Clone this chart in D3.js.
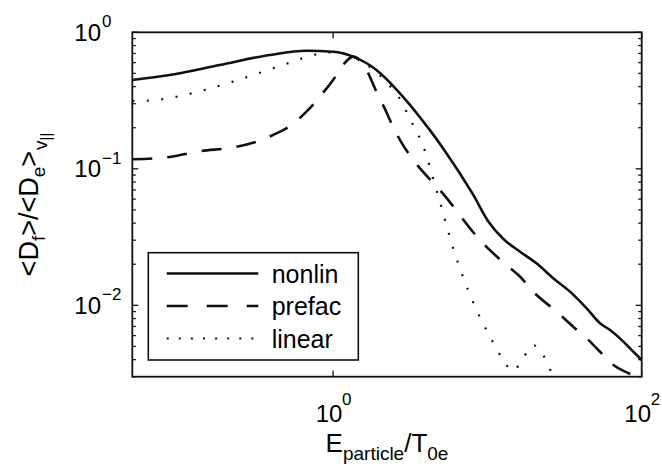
<!DOCTYPE html>
<html>
<head>
<meta charset="utf-8">
<script src="https://cdn.jsdelivr.net/npm/d3@7"></script>
<style>
  html, body { margin: 0; padding: 0; background: #fff; }
  svg text { font-family: "Liberation Sans", Arial, Helvetica, sans-serif; fill: #000; }
</style>
</head>
<body>
<svg id="chart" width="662" height="468"></svg>
<script>
// Energy grid (E_particle / T_0e) and diffusion ratio for each model
const xNonlin = [0.05, 0.0873, 0.184, 0.388, 0.672, 1, 1.349, 1.91, 2.84, 4.24, 5.17, 8.05, 10.2, 12.7, 16.3, 20.8, 26.7, 34.3, 44.0, 53.7, 62.3, 72.3, 84.0, 100];
const yNonlin = [0.447, 0.487, 0.576, 0.682, 0.733, 0.721, 0.663, 0.530, 0.337, 0.192, 0.141, 0.0652, 0.0408, 0.0306, 0.0247, 0.0203, 0.0158, 0.0126, 0.0095, 0.00738, 0.00659, 0.00573, 0.00484, 0.00397];

const xPrefac = [0.05, 0.0873, 0.130, 0.236, 0.319, 0.408, 0.537, 0.672, 0.820, 1, 1.161, 1.349, 1.647, 1.91, 2.16, 2.45, 2.84, 3.14, 5.30, 9.17, 13.3, 16.3, 19.8, 28.1, 36.0, 44.0, 53.7, 65.5, 84, 95];
const yPrefac = [0.1174, 0.122, 0.1334, 0.145, 0.158, 0.177, 0.209, 0.262, 0.337, 0.447, 0.576, 0.663, 0.530, 0.367, 0.277, 0.203, 0.149, 0.126, 0.0633, 0.0292, 0.0197, 0.0162, 0.0126, 0.00898, 0.00697, 0.00573, 0.00457, 0.00365, 0.00314, 0.0029];

const xLinear = [0.05, 0.0617, 0.0965, 0.147, 0.224, 0.343, 0.524, 0.800, 0.977, 1.383, 1.73, 2.11, 2.45, 2.78, 3.06, 3.39, 3.74, 4.78, 6.15, 7.14, 8.51, 10.4, 12.7, 14.6, 17.1, 19.7, 22.6, 25.4, 27.8];
const yLinear = [0.314, 0.315, 0.337, 0.378, 0.435, 0.509, 0.599, 0.694, 0.713, 0.659, 0.557, 0.460, 0.378, 0.310, 0.248, 0.198, 0.158, 0.0643, 0.0240, 0.0149, 0.00924, 0.00589, 0.00397, 0.0033, 0.00413, 0.00512, 0.00448, 0.00341, 0.00284];

const seriesNames = ["nonlin", "prefac", "linear"];
const xTickValues = [1, 100];
const xTickExponents = ["0", "2"];
const yTickValues = [1, 0.1, 0.01];
const yTickExponents = ["0", "\u22121", "\u22122"];

const svg = d3.select("#chart");
const L = 132.3, R = 641.7, T = 32.3, B = 376.7;

const x = d3.scaleLog().domain([0.05, 100]).range([L, R]);
const y = d3.scaleLog().domain([0.003, 1]).range([B, T]);

svg.append("rect").attr("width", 662).attr("height", 468).attr("fill", "#fff");

svg.append("defs").append("clipPath").attr("id", "plotClip")
  .append("rect").attr("x", L).attr("y", T).attr("width", R - L).attr("height", B - T);

// Curves
const line = d3.line().x(d => x(d[0])).y(d => y(d[1])).curve(d3.curveMonotoneX);
const styles = {
  nonlin: { dash: null, legendDash: null, width: 2.6 },
  prefac: { dash: "20,15", legendDash: "21,19", width: 2.6 },
  linear: { dash: "2,12.5", legendDash: "2,10.1", width: 2.2 }
};
const data = {
  nonlin: d3.zip(xNonlin, yNonlin),
  prefac: d3.zip(xPrefac, yPrefac),
  linear: d3.zip(xLinear, yLinear)
};
const plot = svg.append("g").attr("clip-path", "url(#plotClip)");
["linear", "prefac", "nonlin"].forEach(name => {
  plot.append("path")
    .datum(data[name])
    .attr("d", line)
    .attr("fill", "none")
    .attr("stroke", "#111")
    .attr("stroke-width", styles[name].width)
    .attr("stroke-dasharray", styles[name].dash);
});

// Axes: ticks drawn inward on all four sides
const axes = svg.append("g");
const majorLen = 6, minorLen = 3.5;
const yMinor = [];
[-3, -2, -1].forEach(e => { for (let k = 2; k <= 9; k++) { const v = k * Math.pow(10, e); if (v >= 0.003 && v < 1) yMinor.push(v); } });

yMinor.forEach(v => {
  axes.append("line").attr("x1", L).attr("x2", L + minorLen).attr("y1", y(v)).attr("y2", y(v));
  axes.append("line").attr("x1", R).attr("x2", R - minorLen).attr("y1", y(v)).attr("y2", y(v));
});
yTickValues.forEach(v => {
  axes.append("line").attr("x1", L).attr("x2", L + majorLen).attr("y1", y(v)).attr("y2", y(v));
  axes.append("line").attr("x1", R).attr("x2", R - majorLen).attr("y1", y(v)).attr("y2", y(v));
});
xTickValues.forEach(v => {
  axes.append("line").attr("x1", x(v)).attr("x2", x(v)).attr("y1", B).attr("y2", B - majorLen);
  axes.append("line").attr("x1", x(v)).attr("x2", x(v)).attr("y1", T).attr("y2", T + majorLen);
});
axes.selectAll("line").attr("stroke", "#111").attr("stroke-width", 1.3);

axes.append("rect").attr("x", L).attr("y", T).attr("width", R - L).attr("height", B - T)
  .attr("fill", "none").attr("stroke", "#111").attr("stroke-width", 1.8);

// Tick labels as powers of ten
yTickValues.forEach((v, i) => {
  svg.append("text").attr("x", 101).attr("y", y(v) + 8.5)
    .attr("text-anchor", "end").attr("font-size", 24).text("10");
  svg.append("text").attr("x", 102).attr("y", y(v) - 5)
    .attr("font-size", 17).text(yTickExponents[i]);
});
xTickValues.forEach((v, i) => {
  svg.append("text").attr("x", x(v) - 4).attr("y", 422)
    .attr("text-anchor", "middle").attr("font-size", 24).text("10");
  svg.append("text").attr("x", x(v) + 9).attr("y", 405)
    .attr("font-size", 17).text(xTickExponents[i]);
});

// Axis titles
const xl = svg.append("text").attr("x", (L + R) / 2).attr("y", 452)
  .attr("text-anchor", "middle").attr("font-size", 26);
xl.append("tspan").text("E");
xl.append("tspan").attr("font-size", 19).attr("dy", 8).text("particle");
xl.append("tspan").attr("dy", -8).text("/T");
xl.append("tspan").attr("font-size", 19).attr("dy", 8).text("0e");

const yl = svg.append("text")
  .attr("transform", `translate(38,${(T + B) / 2}) rotate(-90)`)
  .attr("text-anchor", "middle").attr("font-size", 27);
yl.append("tspan").text("<D");
yl.append("tspan").attr("font-size", 19).attr("dy", 7).text("f");
yl.append("tspan").attr("dy", -7).text(">/<D");
yl.append("tspan").attr("font-size", 19).attr("dy", 7).text("e");
yl.append("tspan").attr("dy", -7).text(">");
yl.append("tspan").attr("font-size", 19).attr("dx", 1).attr("dy", 9).text("v");
yl.append("tspan").attr("font-size", 15).attr("dy", 4).text("||");

// Legend
const leg = svg.append("g");
leg.append("rect").attr("x", 148.3).attr("y", 252.7).attr("width", 210).attr("height", 107.3)
  .attr("fill", "#fff").attr("stroke", "#111").attr("stroke-width", 1.6);
seriesNames.forEach((name, i) => {
  const ly = 273.5 + i * 32.5;
  leg.append("line").attr("x1", 166.7).attr("x2", 258.3).attr("y1", ly).attr("y2", ly)
    .attr("stroke", "#111").attr("stroke-width", styles[name].width)
    .attr("stroke-dasharray", styles[name].legendDash);
  leg.append("text").attr("x", 271.7).attr("y", ly + 9).attr("font-size", 25).text(name);
});
</script>
</body>
</html>
